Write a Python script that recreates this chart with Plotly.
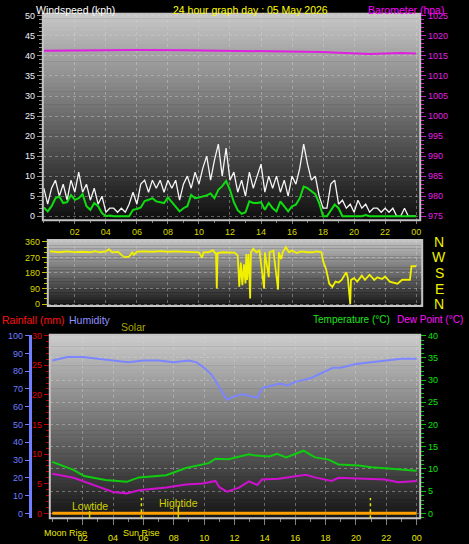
import plotly.graph_objects as go

# ---------------- data ----------------
title_text = "24 hour graph day : 05 May 2026"

# wind (kph) sampled every 15 minutes, 00:00 .. 24:00
wind_hours = [i / 4 for i in range(97)]
wind_gust = [7, 3, 7, 9, 5, 8, 4, 9, 6, 11, 6, 8, 4, 7, 3, 5,
             1, 2, 2, 1, 2, 1, 3, 6, 3, 8, 9, 6, 9, 7, 9, 6,
             9, 7, 9, 4, 8, 10, 7, 11, 8, 12, 15, 9, 14, 18, 10, 17,
             9, 11, 6, 9, 5, 11, 7, 10, 13, 6, 10, 7, 10, 6, 9, 5,
             10, 8, 12, 18, 13, 9, 10, 5, 2, 2, 8, 9, 3, 4, 2, 3,
             1, 4, 2, 3, 1, 2, 2, 1, 2, 1, 2, 0, 0, 2, 0, 0,
             0]
wind_avg = [2.2, 1.2, 2.5, 4.5, 4.9, 3.3, 3.5, 5.3, 4.1, 4.5, 5.5, 2.5, 1.6, 3.3, 2.5, 0.8,
            0, 0.2, 0, 0, 0, 0, 0, 1.6, 1.8, 2.2, 3.8, 4.1, 4.5, 3.7, 3.5, 3.3,
            4.7, 3.5, 2.5, 1.2, 2.0, 2.5, 5.3, 4.5, 4.7, 4.9, 5.2, 5.7, 4.5, 6.6, 7.5, 8.8,
            6.6, 3.5, 1.5, 0.6, 1.0, 3.7, 3.3, 3.3, 3.5, 1.6, 3.3, 2.0, 1.2, 3.7, 2.5, 1.2,
            2.5, 2.9, 4.5, 7.4, 7.0, 6.2, 5.5, 3.3, 0, 0, 1.5, 2.9, 2.0, 0, 0, 0,
            0, 0, 0, 0.3, 0, 0, 0, 0, 0, 0, 0, 0, 0, 0, 0, 0,
            0]

baro_hours = [0, 3, 5, 6, 9, 12, 15, 18, 19, 20, 21, 22, 23, 24]
baro_hpa = [1016.3, 1016.4, 1016.6, 1016.5, 1016.4, 1016.3, 1016.2, 1016.0,
            1015.8, 1015.6, 1015.5, 1015.6, 1015.7, 1015.6]

dir_hours = [0.4, 0.8, 1.0, 1.5, 2.0, 2.5, 3.0, 3.3, 3.6, 4.0, 4.2, 4.4, 4.8, 5.0, 5.2,
             5.5, 5.7, 5.8, 6.0, 6.5, 7.0, 7.5, 8.0, 8.5, 9.0, 9.5, 10.0, 10.2, 10.3,
             10.6, 10.9, 11.0, 11.1, 11.15, 11.2, 11.5, 12.0, 12.3, 12.5, 12.6, 12.7,
             12.8, 12.9, 13.0, 13.05, 13.1, 13.2, 13.3, 13.35, 13.5, 13.7, 13.9, 14.2,
             14.25, 14.5, 14.55, 14.8, 15.1, 15.15, 15.3, 15.4, 15.6, 15.8, 16.0, 16.3,
             16.6, 17.0, 17.3, 17.6, 17.9, 18.0, 18.2, 18.4, 18.6, 18.8, 19.0, 19.2,
             19.5, 19.6, 19.75, 19.8, 20.0, 20.2, 20.5, 20.7, 21.0, 21.3, 21.5, 21.8,
             22.0, 22.3, 22.5, 22.8, 23.1, 23.6, 23.7, 24.0]
dir_deg = [305, 303, 300, 305, 301, 303, 300, 306, 300, 305, 318, 300, 302, 285, 272,
           275, 300, 285, 303, 305, 303, 306, 303, 305, 303, 302, 300, 268, 300,
           300, 312, 300, 292, 90, 295, 300, 300, 298, 280, 100, 240,
           110, 230, 120, 290, 140, 290, 32, 300, 320, 300, 310, 90,
           300, 156, 300, 310, 84, 300, 260, 300, 330, 300, 310, 295,
           305, 300, 300, 305, 300, 250, 200, 118, 99, 130, 125, 140,
           185, 150, 0, 140, 150, 130, 165, 140, 170, 140, 155, 145,
           160, 130, 125, 118, 141, 141, 219, 219]

hum_hours = [0, 0.5, 1, 2, 3, 4, 5, 6, 7, 8, 9, 9.5, 10, 10.5, 11, 11.3, 11.5, 12,
             12.6, 13, 13.5, 13.8, 14, 14.5, 15, 15.5, 16, 16.5, 17, 17.5, 18, 18.5,
             19, 20, 21, 22, 23, 24]
hum_pct = [86, 87, 88, 88, 87, 86, 85, 86, 86, 85, 86, 85, 82, 78, 71, 67, 64, 66,
           67, 66, 65, 70, 71, 72, 73, 72, 74, 75, 76, 78, 80, 82,
           82, 84, 85, 86, 87, 87]

temp_hours = [0, 1.4, 2.1, 3.5, 4.9, 5.7, 7.5, 8.8, 10.3, 10.75, 11.6, 12.95, 13.4,
              14.3, 14.8, 15.4, 16.55, 17.3, 18.2, 18.85, 20.2, 21.0, 22.1, 23.2, 24]
temp_c = [11.6, 9.8, 8.4, 7.5, 7.1, 8.1, 8.6, 10.2, 11.3, 12.3, 12.2, 13.3, 13.0,
          12.8, 13.4, 12.6, 14.1, 12.6, 12.1, 11.0, 10.8, 10.4, 10.1, 9.8, 9.6]

dew_hours = [0, 1.4, 2.7, 4.0, 4.9, 5.7, 7.5, 8.8, 9.9, 10.75, 11.0, 11.5, 12.3,
             12.95, 13.5, 13.8, 14.9, 16.7, 17.3, 18.4, 18.85, 20.2, 21.9, 22.8, 24]
dew_c = [8.9, 8.0, 6.4, 4.8, 4.5, 5.2, 5.8, 6.5, 6.7, 7.3, 5.9, 4.9, 5.8,
         7.2, 6.4, 7.6, 7.8, 8.7, 8.1, 7.3, 8.0, 7.8, 7.6, 7.0, 7.3]

rain_hours = [0, 24]
rain_mm = [0, 0]

event_names = ["Moon Rise", "Sun Rise"]
event_hours = [0.9, 5.87]
sun_line_hours = [5.87, 20.95]
tide_names = ["Lowtide", "Hightide"]
tide_hours = [2.46, 8.3]

x_tickvals = [2, 4, 6, 8, 10, 12, 14, 16, 18, 20, 22, 24]
x_ticktext = ["02", "04", "06", "08", "10", "12", "14", "16", "18", "20", "22", "00"]
dir_tickvals = [0, 90, 180, 270, 360]
compass_text = ["N", "E", "S", "W", "N"]

# ---------------- layout helpers ----------------
W, H = 469, 544
FONT = "Liberation Sans"
TICK = 9
HEAD = 10.5


def fx(p):
    return p / W


def fy(p):
    return 1 - p / H


def hrange(px0, k, left, right):
    return [(left - px0) / k, (right - px0) / k]


def vrange(zero_px, k, top, bottom, base=0.0):
    return [base + (zero_px - bottom) / k, base + (zero_px - top) / k]


# panel pixel boxes
TOP = dict(L=43, R=422, T=10, B=219)
MID = dict(L=48, R=424, T=239, B=306)
BOT = dict(L=50, R=422, T=335, B=521)

fig = go.Figure()

# ----- traces -----
fig.add_trace(go.Scatter(x=wind_hours, y=wind_gust, mode="lines",
                         line=dict(color="#f4f4f4", width=1.3), xaxis="x", yaxis="y"))
fig.add_trace(go.Scatter(x=wind_hours, y=wind_avg, mode="lines",
                         line=dict(color="#10dd10", width=2), xaxis="x", yaxis="y"))
fig.add_trace(go.Scatter(x=baro_hours, y=baro_hpa, mode="lines",
                         line=dict(color="#e020e0", width=2), xaxis="x", yaxis="y2"))
fig.add_trace(go.Scatter(x=dir_hours, y=dir_deg, mode="lines",
                         line=dict(color="#f0f000", width=1.8), xaxis="x2", yaxis="y3"))
fig.add_trace(go.Scatter(x=hum_hours, y=hum_pct, mode="lines",
                         line=dict(color="#7b86ff", width=2), xaxis="x3", yaxis="y5"))
fig.add_trace(go.Scatter(x=temp_hours, y=temp_c, mode="lines",
                         line=dict(color="#10cc10", width=2), xaxis="x3", yaxis="y4"))
fig.add_trace(go.Scatter(x=dew_hours, y=dew_c, mode="lines",
                         line=dict(color="#d010d0", width=2), xaxis="x3", yaxis="y4"))
fig.add_trace(go.Scatter(x=rain_hours, y=rain_mm, mode="lines",
                         line=dict(color="#ffa000", width=3), xaxis="x3", yaxis="y6"))

grid = dict(showgrid=True, gridcolor="rgba(215,215,215,0.4)", griddash="dot", gridwidth=1)

fig.update_layout(
    width=W, height=H, paper_bgcolor="black", plot_bgcolor="black",
    margin=dict(l=0, r=0, t=0, b=0), showlegend=False,
    font=dict(family=FONT, size=TICK, color="white"),
    # top panel
    xaxis=dict(domain=[fx(TOP["L"]), fx(TOP["R"])], range=hrange(44, 15.58, TOP["L"], TOP["R"]),
               anchor="y", tickvals=x_tickvals, ticktext=x_ticktext,
               tickfont=dict(family=FONT, size=TICK, color="#d8d800"),
               ticks="outside", ticklen=3, tickcolor="#808080",
               minor=dict(dtick=1, tick0=0, ticks="outside", ticklen=2, tickcolor="#808080"),
               zeroline=False, showline=False, **grid),
    yaxis=dict(domain=[fy(TOP["B"]), fy(TOP["T"])], range=vrange(215, 4.06, TOP["T"], TOP["B"]),
               anchor="x", tickmode="linear", tick0=0, dtick=5,
               tickfont=dict(family=FONT, size=TICK, color="#f0f0ff"),
               ticks="outside", ticklen=5, tickcolor="#909090",
               minor=dict(dtick=1, ticks="outside", ticklen=3, tickcolor="#909090"),
               zeroline=False, showline=False, **grid),
    yaxis2=dict(overlaying="y", side="right", anchor="x",
                range=vrange(215, 4.06, TOP["T"], TOP["B"], base=975),
                tickmode="linear", tick0=975, dtick=5,
                tickfont=dict(family=FONT, size=TICK, color="#e020e0"),
                ticks="outside", ticklen=5, tickcolor="#c020c0",
                minor=dict(dtick=1, ticks="outside", ticklen=3, tickcolor="#c020c0"),
                showgrid=False, zeroline=False, showline=False),
    # middle panel
    xaxis2=dict(domain=[fx(MID["L"]), fx(MID["R"])], range=hrange(44, 15.58, MID["L"], MID["R"]),
                anchor="y3", tickvals=x_tickvals, showticklabels=False, ticks="",
                zeroline=False, showline=False, **grid),
    yaxis3=dict(domain=[fy(MID["B"]), fy(MID["T"])], range=vrange(304, 63 / 360, MID["T"], MID["B"]),
                anchor="x2", tickvals=dir_tickvals,
                tickfont=dict(family=FONT, size=TICK, color="#d8d800"),
                ticks="outside", ticklen=5, tickcolor="#c0c000",
                minor=dict(dtick=30, ticks="outside", ticklen=3, tickcolor="#c0c000"),
                zeroline=False, showline=False, **grid),
    # bottom panel
    xaxis3=dict(domain=[fx(BOT["L"]), fx(BOT["R"])], range=hrange(52.5, 15.25, BOT["L"], BOT["R"]),
                anchor="y4", tickvals=x_tickvals, ticktext=x_ticktext,
                tickfont=dict(family=FONT, size=TICK, color="#e8e800"),
                ticks="outside", ticklen=6, tickcolor="#808080", ticklabelstandoff=5,
                minor=dict(dtick=1, tick0=0, ticks="outside", ticklen=3, tickcolor="#808080"),
                zeroline=False, showline=False, **grid),
    yaxis4=dict(domain=[fy(BOT["B"]), fy(BOT["T"])], range=vrange(516, 4.5, BOT["T"], BOT["B"]),
                anchor="x3", side="right", tickmode="linear", tick0=0, dtick=5,
                tickfont=dict(family=FONT, size=TICK, color="#10e010"),
                ticks="outside", ticklen=5, tickcolor="#10c010",
                minor=dict(dtick=1, ticks="outside", ticklen=3, tickcolor="#10c010"),
                zeroline=False, showline=False, **grid),
    yaxis5=dict(overlaying="y4", anchor="free", position=fx(30), side="left",
                range=vrange(516, 1.8, BOT["T"], BOT["B"]),
                tickmode="linear", tick0=0, dtick=10,
                tickfont=dict(family=FONT, size=TICK, color="#6f7fff"),
                ticks="outside", ticklen=4, tickcolor="#6f7fff",
                showline=True, linecolor="#6f7fff", linewidth=3,
                showgrid=False, zeroline=False),
    yaxis6=dict(overlaying="y4", anchor="free", position=fx(49), side="left",
                range=vrange(516, 6.0, BOT["T"], BOT["B"]),
                tickmode="linear", tick0=0, dtick=5,
                tickfont=dict(family=FONT, size=TICK, color="#e00000"),
                ticks="outside", ticklen=5, tickcolor="#c00000",
                minor=dict(dtick=1, ticks="outside", ticklen=3, tickcolor="#c00000"),
                showline=False, showgrid=False, zeroline=False),
)

# ----- panel gradient backgrounds -----
def add_gradient(xd, yd, top_rgb, bot_rgb, n=48):
    for i in range(n):
        t = (i + 0.5) / n
        c = [round(top_rgb[j] + (bot_rgb[j] - top_rgb[j]) * t) for j in range(3)]
        fig.add_shape(type="rect", xref=f"{xd} domain", yref=f"{yd} domain",
                      x0=0, x1=1, y0=max(0, 1 - (i + 1) / n - 0.003), y1=1 - i / n,
                      fillcolor=f"rgb({c[0]},{c[1]},{c[2]})", line_width=0, layer="below")


add_gradient("x", "y", (200, 200, 200), (14, 14, 14))
add_gradient("x2", "y3", (195, 195, 195), (22, 22, 22), n=24)
add_gradient("x3", "y4", (205, 205, 205), (20, 20, 20))

for xd, yd in [("x", "y"), ("x2", "y3"), ("x3", "y4")]:
    fig.add_shape(type="rect", xref=f"{xd} domain", yref=f"{yd} domain",
                  x0=0, x1=1, y0=0, y1=1, line=dict(color="#c4c4c4", width=2),
                  fillcolor="rgba(0,0,0,0)", layer="above")

# ----- sunrise / sunset and tide markers -----
for h in sun_line_hours:
    fig.add_shape(type="line", xref="x3", yref="y4 domain", x0=h, x1=h, y0=0, y1=0.11,
                  line=dict(color="#e8e800", width=1.5, dash="dot"))
for name, h, top, ty in zip(tide_names, tide_hours, [0.04, 0.07], [509, 505]):
    fig.add_shape(type="line", xref="x3", yref="y4 domain", x0=h, x1=h, y0=0, y1=top,
                  line=dict(color="#d0d000", width=1.5))
    fig.add_annotation(x=h, xref="x3", y=fy(ty), yref="paper", text=name, showarrow=False,
                       font=dict(family=FONT, size=HEAD, color="#d0d000"),
                       xanchor="center", yanchor="middle")
for name, h in zip(event_names, event_hours):
    fig.add_annotation(x=h, xref="x3", y=fy(536), yref="paper", text=name, showarrow=False,
                       font=dict(family=FONT, size=TICK, color="#e8e800"),
                       xanchor="center", yanchor="middle")

# compass letters on the direction panel
for v, t in zip(dir_tickvals, compass_text):
    fig.add_annotation(x=fx(441), xref="paper", y=v, yref="y3", text=t, showarrow=False,
                       font=dict(family=FONT, size=14, color="#f0f000"),
                       xanchor="center", yanchor="middle")

# ----- header texts -----
headers = [
    ("Windspeed (kph)", 34, 6, "left", "#ffffff", HEAD),
    (title_text, 252, 6, "center", "#ffff00", HEAD),
    ("Barometer (hpa)", 448, 6, "right", "#ff00ff", HEAD),
    ("Rainfall (mm)", 0, 320, "left", "#ff1010", HEAD),
    ("Humidity", 67, 320, "left", "#9090ff", HEAD),
    ("Solar", 120, 327, "left", "#a8a800", HEAD),
    ("Temperature (°C)", 394, 320, "right", "#20e020", 10),
    ("Dew Point (°C)", 467, 320, "right", "#ff10ff", 10),
]
for text, x, y, anchor, color, size in headers:
    fig.add_annotation(x=fx(x), xref="paper", y=fy(y), yref="paper", text=text,
                       showarrow=False, xanchor=anchor, yanchor="middle",
                       font=dict(family=FONT, size=size, color=color))

fig.write_html("out.html", config={"displayModeBar": False},
               post_script="document.body.style.margin='0';")
